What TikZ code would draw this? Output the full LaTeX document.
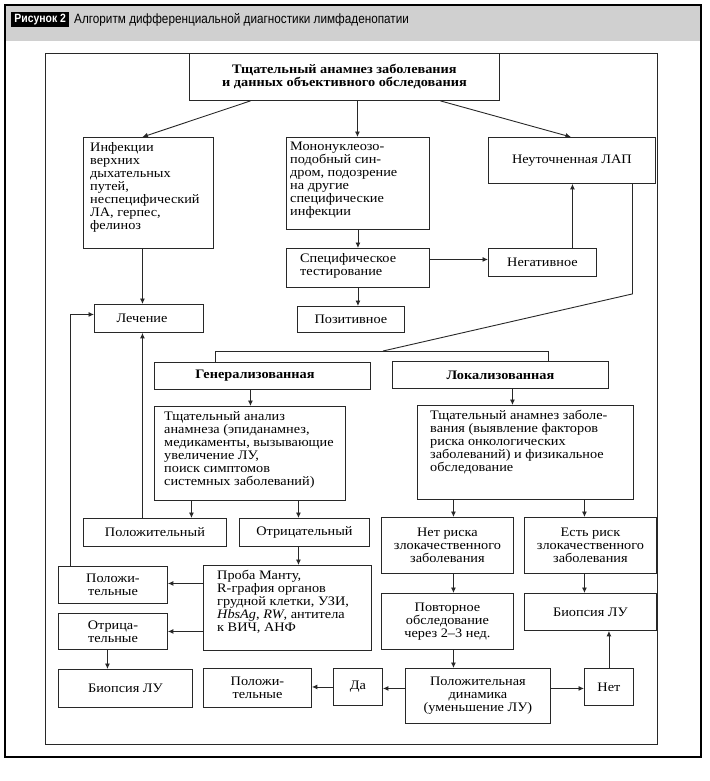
\documentclass[tikz,border=0pt]{standalone}
\usepackage{fontspec}
\setmainfont{Liberation Serif}[FakeStretch=1.1]
\newfontfamily\hdrfont{Liberation Sans}[FakeStretch=0.87]
\usetikzlibrary{arrows.meta}
\definecolor{hdrgray}{RGB}{208,208,208}
\definecolor{ink}{RGB}{40,40,40}
\newcommand\mybox[6]{\node[box, minimum width=#4-#2, minimum height=#5-#3] (#1) at (#2,#3) {#6};}
\begin{document}
\begin{tikzpicture}[x=1pt,y=-1pt,
  box/.style={draw=ink, line width=0.9pt, inner sep=0pt, anchor=north west, align=center, font=\fontsize{13}{13}\selectfont},
  txt/.style={font=\fontsize{13}{13}\selectfont, align=left, inner sep=0pt, anchor=north west},
  arr/.style={draw=ink, line width=0.9pt, -{Latex[length=5.5pt,width=5pt]}},
  ln/.style={draw=ink, line width=0.9pt}]
\useasboundingbox (0,0) rectangle (709,781);
% header
\fill[hdrgray] (5,5) rectangle (701,41);
\draw[line width=1.2pt] (5,5) rectangle (701,757);
\node[fill=black, text=white, font=\hdrfont\bfseries\fontsize{12}{12}\selectfont, inner sep=0pt, minimum width=58, minimum height=15, anchor=west] (fig) at (11,20) {Рисунок 2};
\node[anchor=west, font=\hdrfont\fontsize{13.5}{13.5}\selectfont, inner sep=0pt] (title) at (74,20) {Алгоритм дифференциальной диагностики лимфаденопатии};
% inner frame
\draw[ln] (45,53) rectangle (657,744);
% boxes
\mybox{top}{189}{53}{499}{100}{\textbf{Тщательный анамнез заболевания}\\\textbf{и данных объективного обследования}}
\mybox{inf}{83}{137}{213}{248}{}
\node[txt] (inft) at (90,142) {Инфекции\\верхних\\дыхательных\\путей,\\неспецифический\\ЛА, герпес,\\фелиноз};
\mybox{mono}{286}{137}{429}{229}{}
\node[txt] (monot) at (290,142) {Мононуклеозо-\\подобный син-\\дром, подозрение\\на другие\\специфические\\инфекции};
\mybox{spec}{286}{248}{429}{287}{}
\node[txt] (spect) at (300,253) {Специфическое\\тестирование};
\mybox{neut}{488}{137}{655}{183}{Неуточненная ЛАП}
\mybox{neg}{488}{248}{596}{276}{Негативное}
\mybox{lech}{94}{304}{203}{332}{}
\node[font=\fontsize{13}{13}\selectfont, inner sep=0pt] (lecht) at (142,318) {Лечение};
\mybox{poz}{297}{306}{404}{332}{Позитивное}
\mybox{gen}{154}{362}{370}{389}{}
\node[font=\bfseries\fontsize{13}{13}\selectfont, inner sep=0pt] (gent) at (255,375.5) {Генерализованная};
\mybox{loc}{392}{361}{608}{388}{\textbf{Локализованная}}
\mybox{ganal}{154}{406}{345}{500}{}
\node[txt] (ganalt) at (164,411) {Тщательный анализ\\анамнеза (эпиданамнез,\\медикаменты, вызывающие\\увеличение ЛУ,\\поиск симптомов\\системных заболеваний)};
\mybox{lanal}{417}{405}{633}{499}{}
\node[txt] (lanalt) at (430,410) {Тщательный анамнез заболе-\\вания (выявление факторов\\риска онкологических\\заболеваний) и физикальное\\обследование};
\mybox{polo}{83}{518}{226}{546}{Положительный}
\mybox{otr}{239}{518}{369}{546}{Отрицательный}
\mybox{polos}{58}{566}{167}{603}{Положи-\\тельные}
\mybox{otrs}{58}{613}{167}{649}{Отрица-\\тельные}
\mybox{mantu}{203}{565}{371}{650}{}
\node[txt] (mantut) at (217,570) {Проба Манту,\\R-графия органов\\грудной клетки, УЗИ,\\\textit{HbsAg}, \textit{RW}, антитела\\к ВИЧ, АНФ};
\mybox{biol}{58}{669}{192}{707}{Биопсия ЛУ}
\mybox{polb}{203}{668}{311}{707}{Положи-\\тельные}
\mybox{da}{333}{668}{382}{705}{Да}
\mybox{norisk}{381}{517}{513}{573}{Нет риска\\злокачественного\\заболевания}
\mybox{risk}{524}{517}{656}{573}{Есть риск\\злокачественного\\заболевания}
\mybox{povt}{381}{593}{513}{649}{Повторное\\обследование\\через 2–3 нед.}
\mybox{bior}{524}{593}{656}{630}{Биопсия ЛУ}
\mybox{dyn}{405}{668}{550}{723}{Положительная\\динамика\\(уменьшение ЛУ)}
\mybox{net}{584}{668}{633}{705}{Нет}
% connectors
\draw[arr] ([xshift=-94pt]top.south) -- ([xshift=-6pt]inf.north);
\draw[arr] ([xshift=13pt]top.south) -- ([xshift=13pt]top.south |- mono.north);
\draw[arr] ([xshift=96pt]top.south) -- ([xshift=-1pt]neut.north);
\draw[arr] (mono.south) -- (spec.north);
\draw[arr] ([yshift=8.5pt]spec.east) -- ([yshift=8.5pt]spec.east -| neg.west);
\draw[arr] ([xshift=30pt]neg.north) -- ([xshift=30pt]neg.north |- neut.south);
\draw[arr] (spec.south) -- (spec.south |- poz.north);
\draw[arr] ([xshift=-6pt]inf.south) -- ([xshift=-6pt]inf.south |- lech.north);
\draw[arr] ([xshift=-12.5pt]polo.north) -- ([xshift=-12.5pt]polo.north |- lech.south);
\coordinate (split) at (383,351);
\draw[ln] ([xshift=60.5pt]neut.south) -- ++(0,110) -- (split);
\draw[ln] ([xshift=-47pt]gen.north) -- ++(0,-11) -| ([xshift=48pt]loc.north);
\draw[arr] ([xshift=-12pt]gen.south) -- ([xshift=-12pt]gen.south |- ganal.north);
\draw[arr] ([xshift=12pt]loc.south) -- ([xshift=12pt]loc.south |- lanal.north);
\draw[arr] ([xshift=-58.5pt]ganal.south) -- ([xshift=-58.5pt]ganal.south |- polo.north);
\draw[arr] ([xshift=48.5pt]ganal.south) -- ([xshift=48.5pt]ganal.south |- otr.north);
\draw[arr] ([xshift=-6pt]otr.south) -- ([xshift=-6pt]otr.south |- mantu.north);
\draw[arr] ([yshift=24.5pt]mantu.west) -- ([yshift=24.5pt]mantu.west -| polos.east);
\draw[arr] ([yshift=-23.5pt]mantu.west) -- ([yshift=-23.5pt]mantu.west -| otrs.east);
\draw[arr] ([xshift=-42.5pt]polos.north) |- ([yshift=4pt]lech.west);
\draw[arr] ([xshift=-5.5pt]otrs.south) -- ([xshift=-5.5pt]otrs.south |- biol.north);
\draw[arr] ([xshift=-72pt]lanal.south) -- ([xshift=-72pt]lanal.south |- norisk.north);
\draw[arr] ([xshift=59pt]lanal.south) -- ([xshift=59pt]lanal.south |- risk.north);
\draw[arr] ([xshift=6pt]norisk.south) -- ([xshift=6pt]norisk.south |- povt.north);
\draw[arr] ([xshift=-6pt]risk.south) -- ([xshift=-6pt]risk.south |- bior.north);
\draw[arr] ([xshift=6pt]povt.south) -- ([xshift=6pt]povt.south |- dyn.north);
\draw[arr] ([yshift=7.5pt]dyn.west) -- ([yshift=7.5pt]dyn.west -| da.east);
\draw[arr] (da.west) -- (da.west -| polb.east);
\draw[arr] ([yshift=7.5pt]dyn.east) -- ([yshift=7.5pt]dyn.east -| net.west);
\draw[arr] (net.north) -- (net.north |- bior.south);
\end{tikzpicture}
\end{document}
